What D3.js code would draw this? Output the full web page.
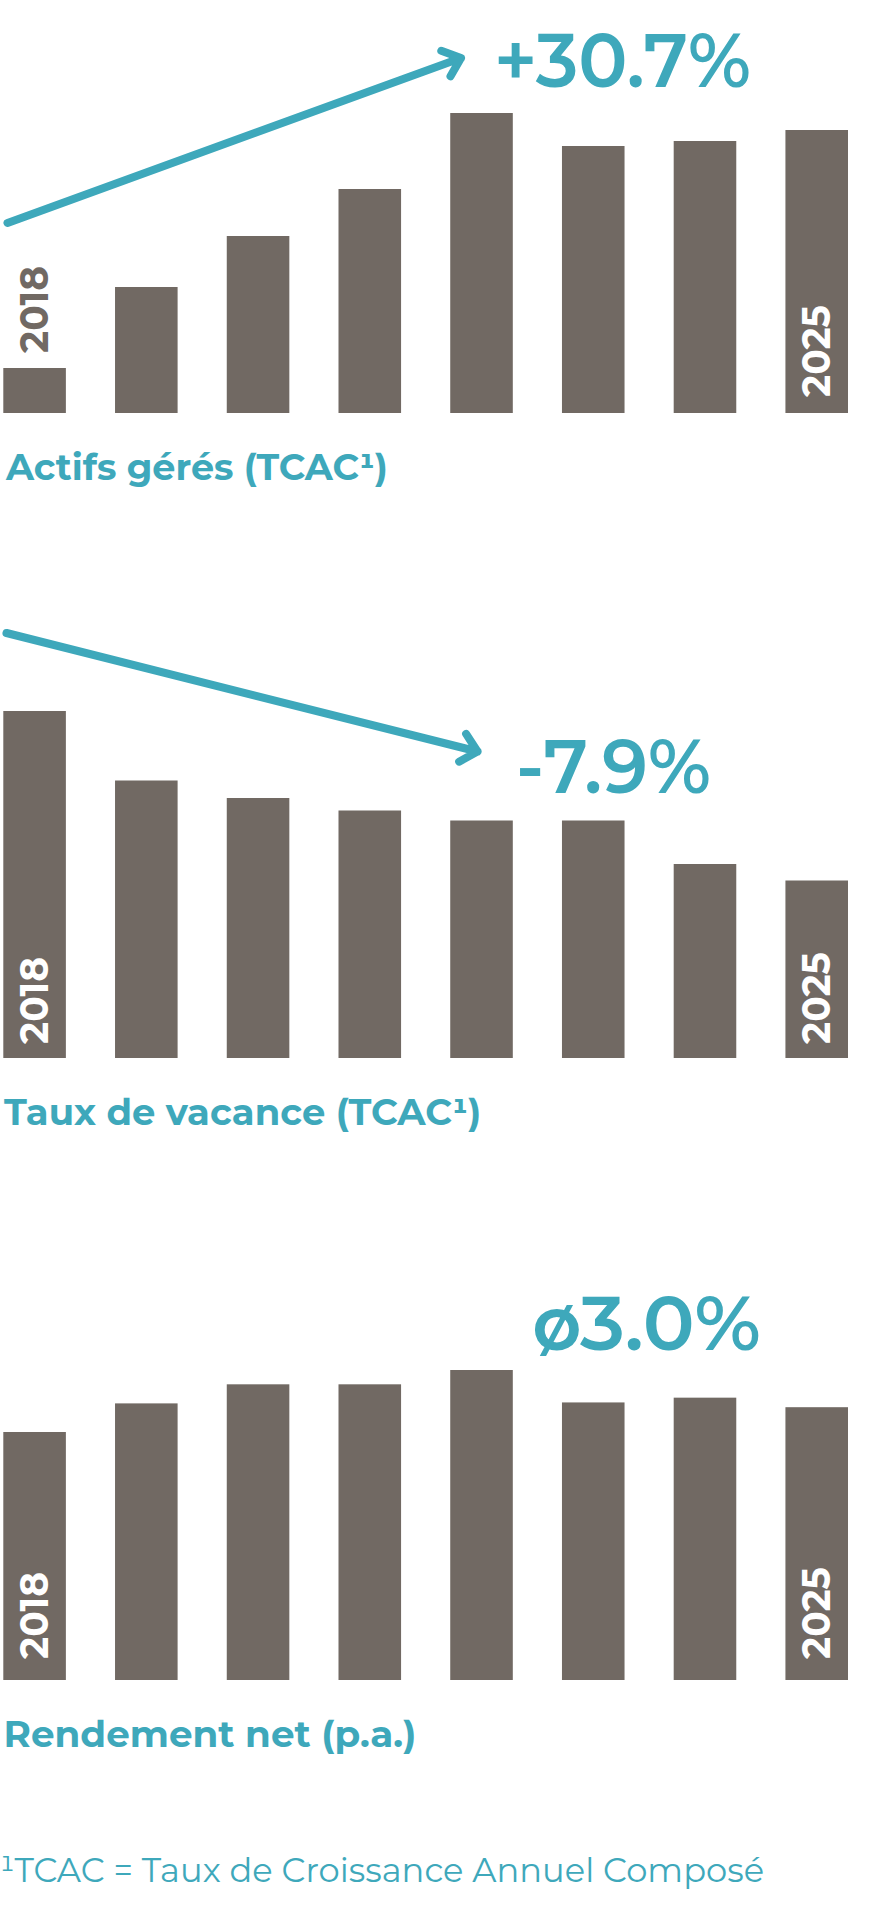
<!DOCTYPE html>
<html>
<head>
<meta charset="utf-8">
<script src="https://cdn.jsdelivr.net/npm/d3@7"></script>
<style>
  html, body { margin: 0; padding: 0; background: #ffffff; }
  svg { display: block; }
  text { font-family: Montserrat, Inter, "Noto Sans", sans-serif; }
</style>
</head>
<body>
<script>
// ---------------- DATA ----------------
const years = [2018, 2019, 2020, 2021, 2022, 2023, 2024, 2025];
const aumValues = [0.45, 1.26, 1.77, 2.24, 3.00, 2.67, 2.72, 2.83];      // actifs gérés (relative)
const vacancyValues = [6.94, 5.55, 5.20, 4.95, 4.75, 4.75, 3.88, 3.55];  // taux de vacance (%)
const yieldValues = [2.60, 2.90, 3.10, 3.10, 3.25, 2.91, 2.96, 2.86];    // rendement net (%)
const tickYears = [2018, 2025];
const panelTitles = ["Actifs gérés (TCAC¹)", "Taux de vacance (TCAC¹)", "Rendement net (p.a.)"];
const headlineLabels = ["+30.7%", "-7.9%", "ø3.0%"];
const footnote = "¹TCAC = Taux de Croissance Annuel Composé";

// ---------------- STYLE / LAYOUT ----------------
const W = 889, H = 1920;
const TEAL = "#3ea8bb";
const BAR = "#716963";

const panels = [
  { values: aumValues, base: 413, maxH: 300, labelGap: 16,
    title: { x: 5, y: 480, w: 383 },
    head: { x: 494, y: 87, w: 257 },
    arrow: { x1: 7.5, y1: 223, x2: 461, y2: 58, len: 21, ang: 40 } },
  { values: vacancyValues, base: 1058, maxH: 347, labelGap: 14,
    title: { x: 4, y: 1125, w: null },
    head: { x: 516, y: 792.5, w: 195 },
    arrow: { x1: 6.5, y1: 633, x2: 477.5, y2: 751.5, len: 21, ang: 43 } },
  { values: yieldValues, base: 1680, maxH: 310, labelGap: 21,
    title: { x: 3.5, y: 1746.5, w: 413 },
    head: { x: 532, y: 1350, w: 229 },
    arrow: null }
];

const svg = d3.select("body").append("svg")
  .attr("width", W).attr("height", H)
  .attr("viewBox", `0 0 ${W} ${H}`);

const x = d3.scaleBand().domain(years).range([3.3, 848]).paddingInner(0.44).paddingOuter(0);

function placeText(sel, left, baseline, targetW, sxForce) {
  sel.attr("x", 0).attr("y", 0);
  const bb = sel.node().getBBox();
  const sx = sxForce ? sxForce : (targetW ? targetW / bb.width : 1);
  sel.attr("transform", `translate(${left - bb.x * sx},${baseline}) scale(${sx},1)`);
  return sx;
}

const LABEL_FS = 39.5;
const CAP = 0.727 * LABEL_FS;

const titleScales = [];
const titleNodes = [];

panels.forEach((p, pi) => {
  const g = svg.append("g");
  const y = d3.scaleLinear().domain([0, d3.max(p.values)]).range([p.base, p.base - p.maxH]);
  const data = years.map((yr, i) => ({ yr, v: p.values[i] }));

  g.selectAll("rect").data(data).join("rect")
    .attr("x", d => x(d.yr))
    .attr("width", x.bandwidth())
    .attr("y", d => y(d.v))
    .attr("height", d => p.base - y(d.v))
    .attr("fill", BAR);

  // year labels (first and last)
  const probe = g.append("text").attr("font-size", LABEL_FS).attr("font-weight", 700).text("2025");
  const sxLabel = 92 / probe.node().getBBox().width;
  probe.remove();

  tickYears.forEach(yr => {
    const v = p.values[years.indexOf(yr)];
    const barTop = y(v);
    const t = g.append("text")
      .attr("font-size", LABEL_FS).attr("font-weight", 700)
      .text(String(yr));
    const len = t.node().getBBox().width * sxLabel;
    const inside = (p.base - barTop) > len + 2 * p.labelGap;
    const bottom = inside ? p.base - p.labelGap : barTop - 15;
    const cx = x(yr) + x.bandwidth() / 2;
    t.attr("fill", inside ? "#ffffff" : BAR)
      .attr("transform", `translate(${cx + CAP / 2 - 1},${bottom}) rotate(-90) scale(${sxLabel},1)`);
  });

  // arrow
  if (p.arrow) {
    const a = p.arrow;
    const back = Math.atan2(a.y1 - a.y2, a.x1 - a.x2);
    const r = a.ang * Math.PI / 180;
    const p1 = [a.x2 + a.len * Math.cos(back + r), a.y2 + a.len * Math.sin(back + r)];
    const p2 = [a.x2 + a.len * Math.cos(back - r), a.y2 + a.len * Math.sin(back - r)];
    const path = d3.path();
    path.moveTo(a.x1, a.y1); path.lineTo(a.x2, a.y2);
    path.moveTo(p1[0], p1[1]); path.lineTo(a.x2, a.y2); path.lineTo(p2[0], p2[1]);
    g.append("path").attr("d", path.toString())
      .attr("fill", "none").attr("stroke", TEAL).attr("stroke-width", 8)
      .attr("stroke-linecap", "round").attr("stroke-linejoin", "round");
  }

  // headline number
  const head = g.append("text")
    .attr("font-size", 75.5).attr("font-weight", 600).attr("fill", TEAL)
    .text(headlineLabels[pi]);
  placeText(head, p.head.x, p.head.y, p.head.w);

  // title
  const title = g.append("text")
    .attr("font-size", 36).attr("font-weight", 700).attr("fill", TEAL)
    .text(panelTitles[pi]);
  titleNodes.push({ sel: title, p });
  if (p.title.w) titleScales.push(placeText(title, p.title.x, p.title.y, p.title.w));
});

const avgTitleScale = d3.mean(titleScales);
titleNodes.forEach(({ sel, p }) => {
  if (!p.title.w) placeText(sel, p.title.x, p.title.y, null, avgTitleScale);
});

// footnote
const foot = svg.append("text")
  .attr("font-size", 34.4).attr("font-weight", 400).attr("fill", TEAL)
  .text(footnote);
placeText(foot, 0, 1881.5, 764);
</script>
</body>
</html>
